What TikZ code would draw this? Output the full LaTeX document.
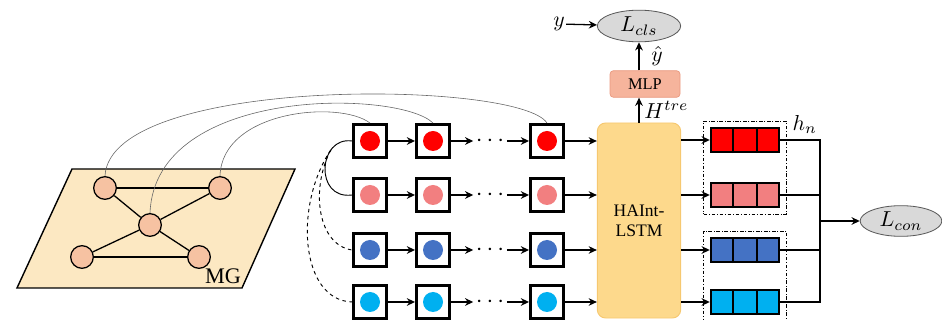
\documentclass[tikz,border=0pt]{standalone}
\usepackage{fontspec}
\setmainfont{Liberation Serif}
\usetikzlibrary{arrows.meta,positioning,shapes.geometric,calc,fit}

\definecolor{mgfill}{HTML}{FCE8C2}
\definecolor{nodefill}{HTML}{F6C2A2}
\definecolor{cRed}{HTML}{FF0000}
\definecolor{cPink}{HTML}{F27F80}
\definecolor{cBlue}{HTML}{4472C4}
\definecolor{cCyan}{HTML}{00B0F0}
\definecolor{lstmfill}{HTML}{FDD98C}
\definecolor{lstmline}{HTML}{F6C870}
\definecolor{mlpfill}{HTML}{F6B49C}
\definecolor{mlpline}{HTML}{EA9A80}
\definecolor{lossfill}{HTML}{D9D9D9}

\newcommand{\mlab}[1]{\scalebox{1.85}{$#1$}}

\begin{document}
\begin{tikzpicture}[
        x=0.03cm, y=-0.03cm,
        mgplane/.style={draw, line width=1.2pt, fill=mgfill},
        gnode/.style={draw, circle, line width=1.1pt, fill=nodefill, minimum size=0.68cm, inner sep=0pt},
        gedge/.style={line width=1.1pt},
        link/.style={draw=gray!80!black, line width=0.5pt},
        seqbox/.style={draw, rectangle, line width=2.2pt, fill=white, minimum size=1cm, inner sep=0pt},
        dot/.style={circle, minimum size=0.6cm, inner sep=0pt},
        arrow/.style={-{Stealth[length=7pt, width=6.5pt]}, line width=1.1pt},
        lstm_node/.style={draw=lstmline, line width=0.8pt, fill=lstmfill, rounded corners=7pt, minimum width=2.5cm, minimum height=5.85cm, align=center, font=\fontsize{15}{17}\selectfont},
        mlp_node/.style={draw=mlpline, line width=0.6pt, fill=mlpfill, rounded corners=3pt, minimum width=2.1cm, minimum height=0.8cm, font=\fontsize{14}{16}\selectfont},
        loss/.style={draw=gray!70!black, ellipse, line width=0.7pt, fill=lossfill, minimum width=2.5cm, minimum height=0.95cm, inner sep=0pt},
        hbox/.style={draw, rectangle, line width=1.8pt, minimum width=2.05cm, minimum height=0.72cm, inner sep=0pt},
        group/.style={draw, line width=0.5pt, dash pattern=on 3pt off 1.5pt on 0.8pt off 1.5pt, inner sep=0.18cm},
        mathlabel/.style={inner sep=1pt}
    ]
    \useasboundingbox (0,0) rectangle (942,320);

    % multi-graph plane
    \draw[mgplane] (72,169) -- (295,169) -- (242,288) -- (17,288) -- cycle;
    \node[font=\fontsize{19}{21}\selectfont] (mg) at (223,276) {MG};

    \node[gnode] (g1) at (105,188) {};
    \node[gnode] (g2) at (220,188) {};
    \node[gnode] (g3) at (150,225) {};
    \node[gnode] (g4) at (82,257) {};
    \node[gnode] (g5) at (199,257) {};
    \foreach \a/\b in {g1/g2, g1/g3, g2/g3, g3/g4, g3/g5, g4/g5}
        \draw[gedge] (\a) -- (\b);

    % sequences of snapshots
    \foreach \r/\c/\y in {1/cRed/141, 2/cPink/195, 3/cBlue/250, 4/cCyan/302} {
        \foreach \k/\x in {1/370, 2/433, 3/547} {
            \node[seqbox] (s\r\k) at (\x,\y) {};
            \node[dot, fill=\c] at (s\r\k) {};
        }
        \node[inner xsep=2pt, inner ysep=0pt, font=\fontsize{20}{20}\selectfont] (dots\r) at (490,\y) {$\cdots$};
        \draw[arrow] (s\r1) -- (s\r2);
        \draw[arrow] (s\r2) -- (dots\r.west);
        \draw[arrow] (dots\r.east) -- (s\r3);
    }

    % links from the graph to the snapshots
    \draw[link] (g1.north) .. controls (110,75) and (520,80) .. (s13.north);
    \draw[link] (g3.north) .. controls (155,85) and (400,90) .. (s12.north);
    \draw[link] (g2.north) .. controls (222,110) and (340,100) .. (s11.north);

    \draw[line width=0.8pt] (s11.west) .. controls (318,136) and (314,200) .. (s21.west) coordinate[pos=0.28] (fork);
    \draw[line width=0.8pt, dashed] (fork) .. controls (310,190) and (318,245) .. (s31.west);
    \draw[line width=0.8pt, dashed] (fork) .. controls (294,205) and (300,300) .. (s41.west);

    % encoder
    \node[lstm_node] (lstm) at (639,220.5) {HAInt-\\LSTM};
    \foreach \r in {1,...,4}
        \draw[arrow] (s\r3.east) -- (s\r3.east -| lstm.west);

    \node[mlp_node] (mlp) at (645,84) {MLP};
    \node[loss] (lcls) at (639,26) {\mlab{L_{cls}}};
    \node[mathlabel] (ylab) at (559,24) {\mlab{y}};
    \draw[arrow] (lstm.north) -- (lstm.north |- mlp.south) node[midway, right=3pt, mathlabel] (htre) {\mlab{H^{tre}}};
    \draw[arrow] (lstm.north |- mlp.north) -- (lcls.south) node[midway, right=9pt, mathlabel] (yhat) {\mlab{\hat{y}}};
    \draw[arrow] (ylab) -- (lcls);

    % hidden states
    \foreach \r/\c/\y in {1/cRed/140, 2/cPink/195, 3/cBlue/250, 4/cCyan/302} {
        \node[hbox, fill=\c] (h\r) at (745,\y) {};
        \draw[line width=1.8pt] ($(h\r.south west)!1/3!(h\r.south east)$) -- ($(h\r.north west)!1/3!(h\r.north east)$);
        \draw[line width=1.8pt] ($(h\r.south west)!2/3!(h\r.south east)$) -- ($(h\r.north west)!2/3!(h\r.north east)$);
        \draw[arrow] (lstm.east |- h\r.west) -- (h\r.west);
    }
    \node[group, fit=(h1)(h2)] (grpA) {};
    \node[group, fit=(h3)(h4)] (grpB) {};
    \node[mathlabel, anchor=south west] (hn) at ([xshift=4pt, yshift=-12pt]grpA.north east) {\mlab{h_n}};

    % contrastive loss
    \node[loss, minimum width=2.45cm, minimum height=0.92cm] (lcon) at (901,221) {\mlab{L_{con}}};
    \coordinate (merge) at (820,221);
    \foreach \r in {1,...,4}
        \draw[line width=1.1pt] (h\r.east) -| (merge);
    \draw[arrow] (merge) -- (lcon.west);
\end{tikzpicture}
\end{document}
